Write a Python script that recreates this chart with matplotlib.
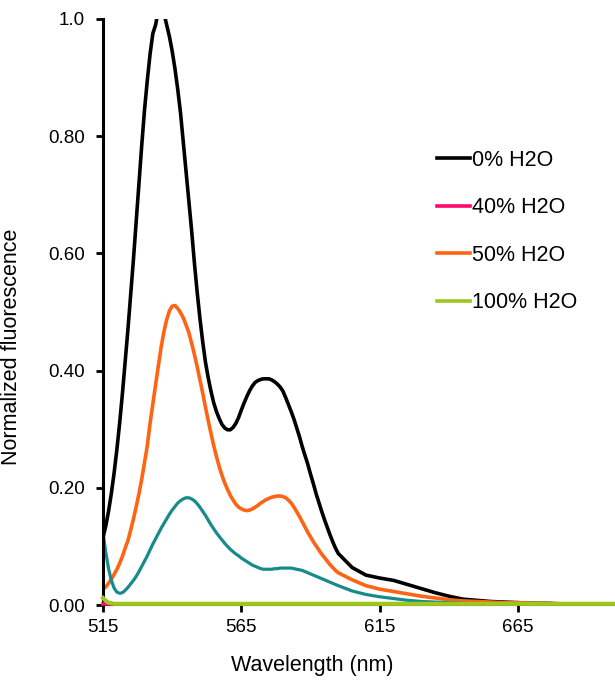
import numpy as np
import matplotlib.pyplot as plt

plt.rcParams['font.family'] = ['Liberation Sans', 'DejaVu Sans']

# emission wavelengths (nm): 1 nm steps over the bands, 5 nm in the tail
wavelength = list(range(515, 601)) + list(range(605, 701, 5))

h2o_0 = [0.115, 0.135, 0.16, 0.19, 0.225, 0.265, 0.31, 0.36, 0.415, 0.47,
         0.53, 0.59, 0.655, 0.72, 0.785, 0.845, 0.895, 0.94, 0.975, 0.99,
         1.015, 1.02, 1.01, 0.99, 0.97, 0.945, 0.915, 0.88, 0.84, 0.79,
         0.74, 0.69, 0.64, 0.585, 0.535, 0.49, 0.45, 0.415, 0.388, 0.365,
         0.345, 0.33, 0.318, 0.308, 0.302, 0.299, 0.299, 0.303, 0.31, 0.32,
         0.333, 0.345, 0.356, 0.366, 0.374, 0.38, 0.383, 0.385, 0.386, 0.386,
         0.386, 0.384, 0.381, 0.377, 0.372, 0.365, 0.354, 0.342, 0.33, 0.317,
         0.302, 0.287, 0.27, 0.255, 0.24, 0.223, 0.207, 0.19, 0.175, 0.16,
         0.146, 0.133, 0.12, 0.108, 0.097, 0.088,
         0.064, 0.051, 0.046, 0.042, 0.035, 0.028, 0.021, 0.015, 0.01, 0.008,
         0.006, 0.005, 0.004, 0.003, 0.003, 0.002, 0.002, 0.002, 0.001, 0.001]

h2o_40 = [0.001] * 106

h2o_50 = [0.027, 0.031, 0.037, 0.044, 0.052, 0.061, 0.071, 0.083, 0.097, 0.11,
          0.128, 0.147, 0.168, 0.19, 0.215, 0.243, 0.272, 0.31, 0.343, 0.376,
          0.408, 0.44, 0.466, 0.487, 0.502, 0.51, 0.511, 0.506, 0.499, 0.49,
          0.478, 0.465, 0.447, 0.428, 0.407, 0.385, 0.362, 0.338, 0.315, 0.293,
          0.272, 0.253, 0.236, 0.221, 0.208, 0.197, 0.187, 0.179, 0.172, 0.167,
          0.164, 0.162, 0.161, 0.162, 0.164, 0.167, 0.17, 0.174, 0.177, 0.18,
          0.182, 0.184, 0.185, 0.186, 0.186, 0.185, 0.183, 0.179, 0.174, 0.167,
          0.159, 0.151, 0.142, 0.133, 0.124, 0.116, 0.108, 0.101, 0.094, 0.087,
          0.081, 0.075, 0.069, 0.064, 0.059, 0.055,
          0.043, 0.033, 0.027, 0.023, 0.019, 0.015, 0.012, 0.009, 0.007, 0.006,
          0.005, 0.004, 0.004, 0.003, 0.003, 0.002, 0.002, 0.002, 0.001, 0.001]

h2o_mid = [0.123, 0.09, 0.062, 0.042, 0.029, 0.022, 0.02, 0.021, 0.025, 0.03,
           0.036, 0.042, 0.049, 0.057, 0.066, 0.075, 0.084, 0.094, 0.104, 0.113,
           0.122, 0.131, 0.139, 0.147, 0.155, 0.162, 0.168, 0.174, 0.178, 0.181,
           0.183, 0.183, 0.181, 0.178, 0.173, 0.167, 0.16, 0.153, 0.145, 0.137,
           0.13, 0.123, 0.117, 0.111, 0.105, 0.1, 0.095, 0.091, 0.087, 0.084,
           0.08, 0.077, 0.074, 0.071, 0.068, 0.066, 0.064, 0.062, 0.061, 0.061,
           0.061, 0.061, 0.062, 0.062, 0.063, 0.063, 0.063, 0.063, 0.063, 0.062,
           0.061, 0.06, 0.059, 0.057, 0.055, 0.053, 0.051, 0.049, 0.047, 0.045,
           0.043, 0.041, 0.039, 0.037, 0.035, 0.033,
           0.024, 0.018, 0.014, 0.011, 0.008, 0.006, 0.005, 0.004, 0.003, 0.002,
           0.002, 0.002, 0.002, 0.002, 0.002, 0.002, 0.002, 0.002, 0.002, 0.002]

h2o_100 = [0.012, 0.007, 0.004, 0.003] + [0.002] * 102

x_ticks = [515, 565, 615, 665]
y_ticks = [0.0, 0.2, 0.4, 0.6, 0.8, 1.0]
y_tick_labels = ['0.00', '0.20', '0.40', '0.60', '0.80', '1.0']

fig = plt.figure(figsize=(6.15, 6.83), dpi=100)
ax = fig.add_axes([0.1675, 0.1142, 0.8325, 0.858])

ax.plot(wavelength, h2o_0, color='black', lw=2.6, label='0% H2O')
ax.plot(wavelength, h2o_40, color='#ff0a6c', lw=2.6, label='40% H2O',
        clip_on=False, zorder=3)
ax.plot(wavelength, h2o_50, color='#ff6414', lw=2.6, label='50% H2O')
ax.plot(wavelength, h2o_mid, color='#178a8a', lw=2.3, label='_nolegend_')
ax.plot(wavelength, h2o_100, color='#9cc81e', lw=3.0, label='100% H2O',
        clip_on=False, zorder=4)

ax.set_xlim(515, 700)
ax.set_ylim(0, 1.0)
ax.set_xticks(x_ticks)
ax.set_yticks(y_ticks)
ax.set_yticklabels(y_tick_labels)

for side in ['top', 'right']:
    ax.spines[side].set_visible(False)
ax.spines['left'].set_linewidth(2.2)
ax.spines['bottom'].set_linewidth(1.5)
ax.tick_params(axis='both', direction='out', width=2, length=5,
               labelsize=13.5, colors='black')
ax.tick_params(axis='y', pad=8)
ax.tick_params(axis='x', pad=5)

ax.set_xlabel('Wavelength (nm)', fontsize=15.5)
ax.set_ylabel('Normalized fluorescence', fontsize=15.5)
ax.xaxis.set_label_coords(0.408, -0.085)
ax.yaxis.set_label_coords(-0.158, 0.44)

leg = ax.legend(loc='upper left', bbox_to_anchor=(0.632, 0.795), frameon=False,
                fontsize=15.5, handlelength=1.5, handletextpad=0.1,
                labelspacing=1.23, borderpad=0)
for line in leg.get_lines():
    line.set_linewidth(2.6)

fig.savefig('out.png', dpi=100)
